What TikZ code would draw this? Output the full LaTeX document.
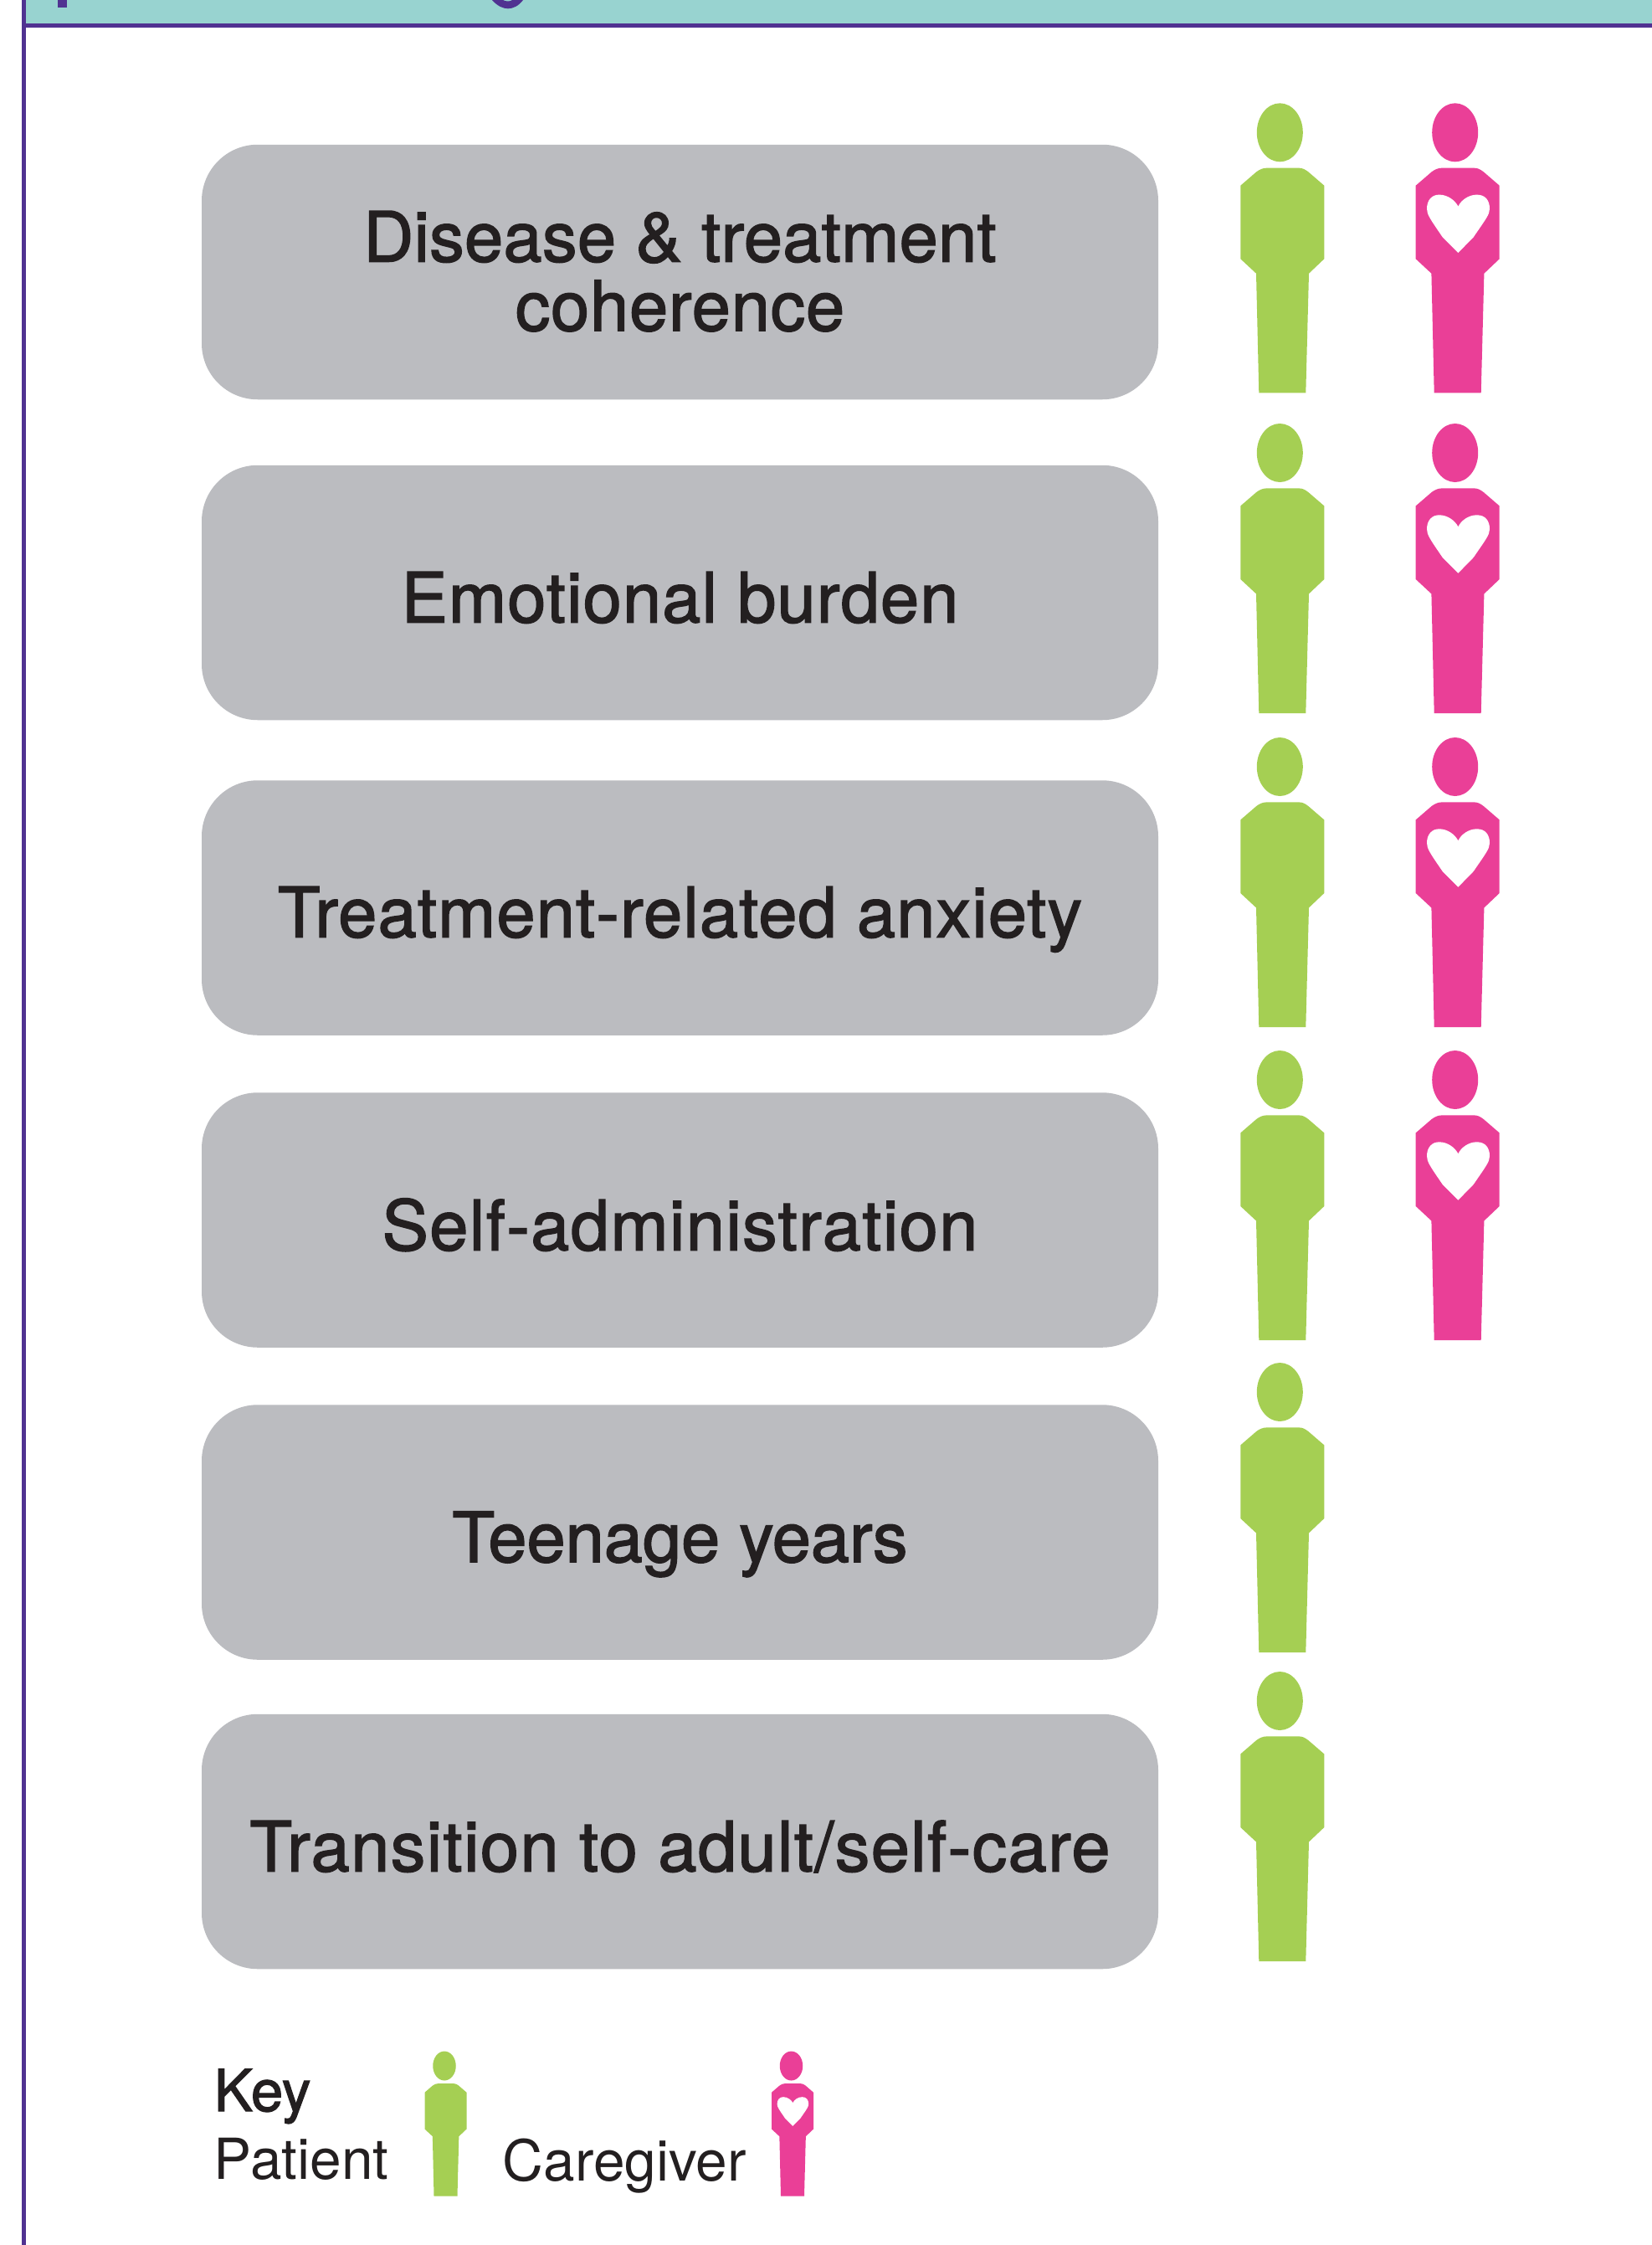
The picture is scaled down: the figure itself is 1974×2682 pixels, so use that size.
\documentclass[tikz,border=0pt]{standalone}
\usepackage{fontspec}
\setmainfont{TeX Gyre Heros}
\newfontfamily\medfont[FakeBold=1.8]{TeX Gyre Heros}
\definecolor{bandteal}{HTML}{98D3D0}
\definecolor{rulepurple}{HTML}{503291}
\definecolor{boxgrey}{HTML}{BBBCC0}
\definecolor{inkdark}{HTML}{231F20}
\definecolor{patientgreen}{HTML}{A5CF53}
\definecolor{carerpink}{HTML}{EA3F97}
\newcommand{\spaced}[1]{\addfontfeature{LetterSpace=#1}}
\tikzset{
  x=0.5pt,y=-0.5pt,
  topicbox/.style={fill=boxgrey,draw=none,rounded corners=33.5pt,minimum width=571.5pt,minimum height=152.25pt,inner sep=0pt},
  topiclabel/.style={anchor=base,text=inkdark,font=\medfont\fontsize{41.5pt}{41pt}\selectfont,inner sep=0pt,align=center},
  keylabel/.style={anchor=base west,text=inkdark,inner sep=0pt,font=\fontsize{33.8pt}{33.8pt}\selectfont},
  patientfig/.pic={
    \fill[patientgreen] (0,0) ellipse [x radius=13.75pt,y radius=17.5pt];
    \fill[patientgreen] (-25,311) -- (31,311) -- (34.7,168.4) -- (53,151) -- (53,63.4)
      -- (34,47) .. controls (30,44) and (27,42.4) .. (23,42.4) -- (-16,42.4)
      .. controls (-20,42.4) and (-24,44) .. (-28,47) -- (-47,63.4) -- (-47,151) -- (-28.3,168.4) -- cycle;
  },
  carerfig/.pic={
    \fill[carerpink] (0,0) ellipse [x radius=13.75pt,y radius=17.5pt];
    \fill[carerpink] (-25,311) -- (31,311) -- (34.7,168.4) -- (53,151) -- (53,63.4)
      -- (34,47) .. controls (30,44) and (27,42.4) .. (23,42.4) -- (-16,42.4)
      .. controls (-20,42.4) and (-24,44) .. (-28,47) -- (-47,63.4) -- (-47,151) -- (-28.3,168.4) -- cycle;
    \fill[white] (3.7,88.3) .. controls (0,81) and (-9,74.3) .. (-19,74.3)
      .. controls (-28,74.3) and (-33.7,81) .. (-33.7,91)
      .. controls (-33.7,98) and (-30,103) .. (-15,125)
      -- (3.7,143.7) -- (22,125)
      .. controls (37,103) and (41.3,98) .. (41.3,91)
      .. controls (41.3,81) and (36,74.3) .. (26,74.3)
      .. controls (16,74.3) and (7,81) .. (3.7,88.3) -- cycle;
  }
}
\begin{document}
\begin{tikzpicture}
\useasboundingbox (0,0) rectangle (1974,2682);
% header band and frame
\fill[bandteal] (28,0) rectangle (1974,28);
\fill[rulepurple] (69,0) rectangle (80,9);
\fill[rulepurple] (588,0) .. controls (594,7) and (601,10.3) .. (607,10.3)
  .. controls (613,10.3) and (620,7) .. (625,0) -- (612,0)
  .. controls (610,2) and (604,2) .. (601,0) -- cycle;
\fill[rulepurple] (25.5,28) rectangle (1974,33);
\fill[rulepurple] (25.5,0) rectangle (30.5,2682);
% boxes
\node[topicbox] (b1) at (812.5,325) {};
\node[topicbox] (b2) at (812.5,708) {};
\node[topicbox] (b3) at (812.5,1084.5) {};
\node[topicbox] (b4) at (812.5,1457.5) {};
\node[topicbox] (b5) at (812.5,1830.5) {};
\node[topicbox] (b6) at (812.5,2200) {};
% labels
\node[topiclabel] (t1a) at (812.5,312.5) {\spaced{0.4}Disease \& treatment};
\node[topiclabel] (t1b) at (812.5,395) {\spaced{1}coherence};
\node[topiclabel] (t2) at (812.5,743.5) {\spaced{1.4}Emotional burden};
\node[topiclabel] (t3) at (812.5,1119.5) {\spaced{1.4}Treatment-related anxiety};
\node[topiclabel] (t4) at (812.5,1493.5) {\spaced{1.7}Self-administration};
\node[topiclabel] (t5) at (812.5,1866) {Teenage years};
\node[topiclabel] (t6) at (812.5,2235.5) {\spaced{1.7}Transition to adult/self-care};
% figures
\foreach \yy in {158.3,541,916,1290,1663,2032}
  \pic at (1529.3,\yy) {patientfig};
\foreach \yy in {158.3,541,916,1290}
  \pic at (1738.7,\yy) {carerfig};
% key
\node[keylabel,font=\medfont\fontsize{34.5pt}{34.5pt}\selectfont,text=inkdark] (keyt) at (255.5,2522) {Key};
\node[keylabel] (patt) at (255.5,2603) {Patient};
\node[keylabel] (cart) at (600.5,2605) {Caregiver};
\pic[scale=0.5] at (531,2468) {patientfig};
\pic[scale=0.5] at (945.5,2468) {carerfig};
\end{tikzpicture}
\end{document}
